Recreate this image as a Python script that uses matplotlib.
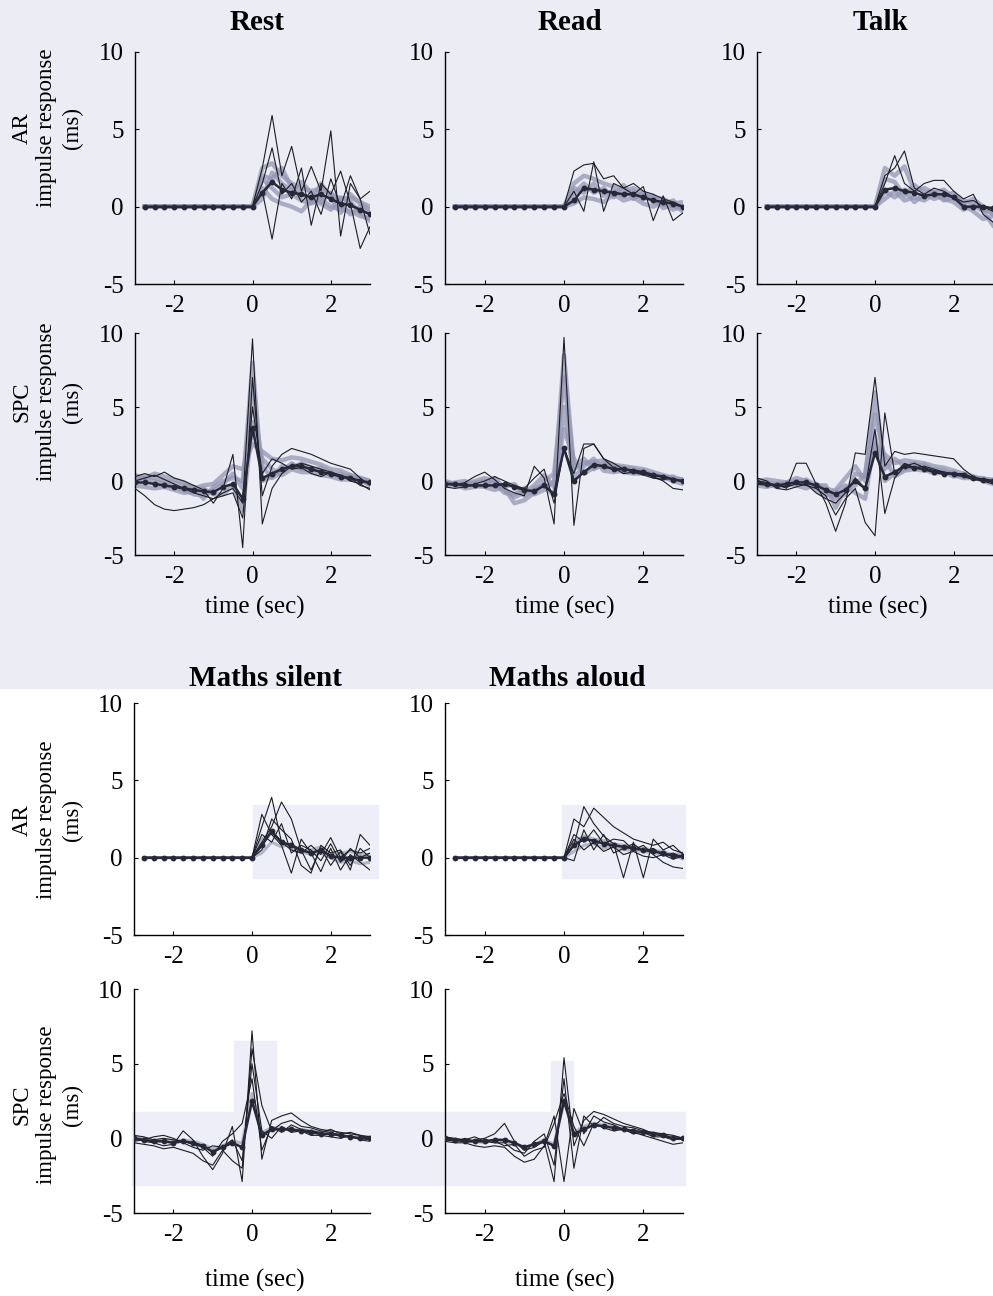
import matplotlib
matplotlib.use("Agg")
import matplotlib.pyplot as plt
from matplotlib.patches import Rectangle

plt.rcParams['font.family'] = ['Liberation Serif', 'DejaVu Serif']

# time lags (sec)
lags_ar = [-2.75, -2.5, -2.25, -2.0, -1.75, -1.5, -1.25, -1.0, -0.75, -0.5, -0.25, 0.0,
           0.25, 0.5, 0.75, 1.0, 1.25, 1.5, 1.75, 2.0, 2.25, 2.5, 2.75, 3.0]
lags_spc = [-3.0, -2.75, -2.5, -2.25, -2.0, -1.75, -1.5, -1.25, -1.0, -0.75, -0.5, -0.25, 0.0,
            0.25, 0.5, 0.75, 1.0, 1.25, 1.5, 1.75, 2.0, 2.25, 2.5, 2.75, 3.0]

# AR responses are zero up to lag 0, only post-stimulus values listed
ar_pre = [0.0] * 12

# ---- Rest ----
rest_ar_mean = [0.9, 1.6, 1.1, 0.9, 0.8, 0.6, 0.8, 0.5, 0.2, 0.1, -0.2, -0.5]
rest_ar_black = [[2.5, 5.9, 2.0, 3.9, 1.0, 2.6, 1.0, 4.9, -1.9, 1.5, 0.5, 1.0],
                 [1.0, -2.1, 1.5, 0.5, 2.5, -1.2, 1.5, 0.8, 2.3, 0.2, -2.7, -1.3],
                 [1.5, 3.8, 0.8, 1.5, 0.3, 1.0, -0.5, 1.8, 0.0, 2.0, 0.5, -1.8]]
rest_ar_grey = [[2.5, 2.8, 2.0, 1.5, 1.2, 1.0, 1.2, 0.8, 0.5, 0.6, 0.3, 0.0],
                [1.8, 1.2, 0.6, 0.8, 0.4, 0.2, 0.5, 0.0, -0.2, -0.3, -0.6, -0.8],
                [0.5, 2.2, 1.5, 1.0, 1.6, 0.9, 0.3, 0.9, 0.2, -0.5, 0.0, -0.4],
                [1.2, 0.5, 0.2, 0.0, -0.3, 0.4, 0.2, -0.2, 0.6, 0.3, -0.4, -0.9],
                [2.0, 1.8, 2.5, 1.2, 0.9, 0.3, 1.5, 0.6, -0.4, 0.8, 0.2, -0.2]]
rest_spc_mean = [-0.1, -0.1, -0.2, -0.3, -0.4, -0.5, -0.6, -0.7, -0.75, -0.4, -0.2, -1.2, 3.6,
                 0.2, 0.5, 0.8, 1.0, 1.0, 0.8, 0.6, 0.5, 0.3, 0.2, 0.0, -0.1]
rest_spc_black = [[-0.5, -1.0, -1.6, -1.9, -2.0, -1.9, -1.8, -1.6, -1.2, -0.8, -0.5, -1.5, 9.6,
                   -2.9, -0.5, 0.5, 1.0, 1.2, 1.0, 0.8, 0.6, 0.3, 0.2, -0.3, -0.5],
                  [0.3, 0.5, 0.3, 0.6, 0.2, 0.0, -0.3, -0.6, -1.5, -0.5, 1.8, -4.5, 7.0,
                   -1.0, 1.0, 1.8, 2.2, 2.0, 1.8, 1.5, 1.2, 1.0, 0.8, 0.2, -0.3],
                  [0.0, 0.2, 0.4, 0.1, -0.2, -0.5, -0.8, -1.0, -1.2, -1.0, -0.8, -2.5, 5.0,
                   0.5, 1.5, 1.2, 0.8, 0.9, 0.5, 0.3, 0.6, 0.4, 0.0, -0.2, -0.6]]
rest_spc_grey = [[0.2, 0.1, 0.0, -0.2, -0.4, -0.6, -0.9, -1.0, -0.6, -0.2, 0.5, -0.5, 8.0,
                  0.0, 0.3, 1.0, 0.9, 1.2, 0.9, 0.7, 0.4, 0.5, 0.2, 0.0, -0.2],
                 [-0.3, -0.4, -0.5, -0.4, -0.6, -0.8, -0.7, -0.5, -0.9, -0.9, -0.3, -2.0, 4.0,
                  1.5, 0.8, 0.4, 0.8, 0.6, 0.6, 0.4, 0.3, 0.1, 0.1, 0.2, 0.0],
                 [0.0, 0.3, 0.2, 0.0, -0.1, -0.3, -0.4, -1.2, -0.4, 0.0, 0.2, 0.0, 6.0,
                  1.0, 0.2, 0.6, 1.2, 0.8, 0.7, 0.9, 0.6, 0.2, 0.4, 0.1, -0.3],
                 [0.4, 0.2, 0.5, 0.3, 0.1, -0.1, -0.5, -0.3, -0.2, 0.4, 1.0, 0.8, 2.5,
                  2.0, 1.5, 1.4, 1.6, 1.5, 1.3, 1.1, 0.8, 0.7, 0.4, 0.2, 0.0]]

# ---- Read ----
read_ar_mean = [0.4, 1.2, 1.1, 1.0, 0.9, 0.8, 0.8, 0.6, 0.4, 0.3, 0.2, 0.0]
read_ar_black = [[2.3, 2.7, 2.8, 1.8, 2.0, 1.2, 1.5, 1.0, 0.8, 0.5, 0.3, 0.0],
                 [1.0, -0.3, 2.9, -0.3, 1.5, 1.2, 0.8, 1.3, -0.9, 0.7, -0.9, -0.4]]
read_ar_grey = [[1.5, 2.0, 1.8, 1.5, 1.3, 1.0, 1.2, 0.8, 0.6, 0.5, 0.2, 0.3],
                [0.8, 1.5, 0.9, 1.2, 0.6, 1.4, 0.5, 0.9, 0.3, 0.1, 0.4, -0.2],
                [0.2, 0.6, 0.5, 0.3, 0.8, 0.4, 0.6, 0.2, 0.0, 0.3, -0.2, 0.1],
                [1.2, 0.9, 1.5, 0.7, 1.0, 0.7, 1.0, 0.5, 0.7, -0.1, 0.1, -0.3]]
read_spc_mean = [-0.2, -0.2, -0.3, -0.3, -0.3, -0.3, -0.2, -0.4, -0.6, -0.7, -0.3, -0.9, 2.2,
                 0.0, 0.6, 1.1, 1.0, 0.8, 0.8, 0.7, 0.6, 0.4, 0.3, 0.1, 0.0]
read_spc_black = [[-0.2, -0.3, -0.1, 0.3, 0.6, 0.1, -0.5, -0.8, -1.0, 1.0, 0.2, -2.9, 9.7,
                   -3.0, 2.2, 2.5, 1.5, 1.2, 0.8, 0.6, 0.5, 0.3, 0.0, -0.5, -0.6],
                  [-0.4, -0.5, -0.4, -0.2, 0.0, 0.3, 0.0, -0.3, -0.5, 0.2, 0.8, -1.5, 2.2,
                   0.5, 2.5, 2.5, 1.5, 0.9, 0.5, 0.6, 0.4, 0.2, 0.1, 0.2, -0.1]]
read_spc_grey = [[0.0, -0.2, -0.5, -0.4, -0.3, 0.2, -0.5, -1.5, -1.3, -0.8, 0.0, 0.5, 7.0,
                  1.0, 1.5, 0.8, 1.2, 1.0, 0.9, 0.8, 0.6, 0.4, 0.3, 0.0, -0.2],
                 [-0.3, -0.1, 0.0, -0.3, -0.4, -0.6, -0.4, -0.2, -1.0, -0.5, -0.3, -1.0, 5.0,
                  0.2, 1.0, 1.5, 0.7, 0.6, 0.7, 0.6, 0.7, 0.3, 0.2, 0.1, 0.1],
                 [-0.1, -0.2, -0.3, -0.1, 0.0, -0.2, -0.8, -0.9, -0.5, -0.9, -0.6, 0.0, 3.5,
                  1.5, 0.5, 0.9, 1.0, 0.9, 0.6, 0.5, 0.5, 0.5, 0.2, 0.3, 0.0],
                 [-0.2, -0.3, -0.2, 0.0, 0.2, 0.0, -0.6, -1.1, -0.8, -0.3, 0.4, -0.4, 8.5,
                  0.8, 1.2, 1.3, 1.4, 1.1, 1.0, 0.9, 0.8, 0.6, 0.4, 0.2, 0.1]]

# ---- Talk ----
talk_ar_mean = [1.1, 1.2, 1.0, 0.9, 0.7, 0.8, 0.8, 0.6, 0.0, 0.0, 0.0, -0.1]
talk_ar_black = [[1.5, 3.3, 1.5, 1.0, 1.5, 1.7, 1.7, 1.0, 0.5, 0.8, -0.5, -1.0],
                 [2.0, 2.5, 3.6, 1.2, 0.8, 1.2, 1.0, 0.6, 0.3, 0.4, 0.0, -0.3]]
talk_ar_grey = [[2.5, 2.0, 2.6, 1.0, 1.2, 0.9, 1.1, 0.6, 0.2, 0.5, 0.0, -0.5],
                [0.5, 1.0, 0.4, 0.6, 0.4, 0.8, 0.5, 0.3, -0.2, 0.1, -0.3, -1.2],
                [1.0, 0.6, 1.1, 0.3, 0.8, 0.5, 0.7, 0.9, 0.1, -0.3, -0.8, -0.6],
                [1.8, 1.6, 0.7, 1.4, 0.9, 1.0, 0.4, 0.6, 0.4, 0.2, -0.2, -0.4]]
talk_spc_mean = [-0.1, -0.2, -0.3, -0.2, -0.1, -0.1, -0.3, -0.6, -0.9, -0.6, 0.0, -0.5, 1.9,
                 0.3, 0.6, 1.0, 0.9, 0.8, 0.6, 0.5, 0.5, 0.4, 0.2, 0.1, 0.0]
talk_spc_black = [[-0.2, -0.3, -0.2, -0.5, 1.2, 1.2, -0.2, -1.5, -3.4, -1.5, 1.9, 1.8, 7.0,
                   1.0, 2.0, 1.8, 1.9, 1.8, 1.7, 1.6, 1.5, 0.8, 0.3, 0.0, -0.2],
                  [0.0, -0.1, -0.3, -0.4, -0.2, -0.3, -0.5, -1.0, -2.3, -1.2, -0.5, -2.8, -3.7,
                   4.6, 0.5, 1.2, 0.9, 1.0, 0.8, 0.6, 0.4, 0.3, 0.1, 0.0, 0.0],
                  [0.2, 0.0, -0.5, -0.6, -0.4, -0.2, -0.8, -1.2, -1.5, -0.8, 0.2, -0.5, 3.5,
                   -2.2, 0.2, 1.0, 1.2, 0.9, 0.7, 0.6, 0.5, 0.5, 0.2, 0.1, -0.1]]
talk_spc_grey = [[-0.3, -0.4, -0.2, -0.1, 0.0, -0.2, -0.4, -0.8, -1.2, -0.9, 0.5, 0.3, 6.0,
                  0.8, 1.5, 1.0, 1.2, 0.8, 0.5, 0.6, 0.3, 0.5, 0.2, 0.1, 0.1],
                 [0.1, -0.1, -0.3, -0.2, -0.3, -0.5, -0.2, -0.5, -0.7, -0.3, -0.8, -1.2, 3.0,
                  0.0, 0.5, 0.8, 1.0, 1.1, 0.7, 0.5, 0.6, 0.3, 0.3, 0.0, -0.2],
                 [-0.2, -0.2, -0.4, -0.3, -0.1, 0.1, -0.3, -0.3, -1.8, -0.5, -0.3, 0.5, 4.5,
                  1.5, 0.3, 0.7, 0.8, 0.7, 0.8, 0.7, 0.4, 0.2, 0.2, 0.2, 0.0],
                 [0.0, 0.1, 0.0, -0.1, 0.2, 0.0, -0.6, -1.0, -0.6, 0.2, 1.0, 0.0, 2.5,
                  1.8, 1.2, 1.4, 1.3, 1.2, 1.0, 0.9, 0.7, 0.5, 0.3, 0.1, 0.0]]

# ---- Maths silent ----
msil_ar_mean = [0.8, 1.7, 1.0, 0.8, 0.5, 0.3, 0.5, 0.1, 0.0, 0.0, 0.0, 0.0]
msil_ar_black = [[2.0, 3.9, 1.0, 0.5, 0.3, 0.8, 0.2, 1.3, 0.0, 0.5, 0.3, 0.6],
                 [1.0, 2.0, 3.6, 2.5, 0.5, -0.8, 0.6, -0.5, 0.4, -0.8, 1.5, 0.8],
                 [2.8, 1.5, 0.8, -1.0, 1.2, 0.3, -0.9, 0.6, -0.8, 0.2, -0.3, -0.8],
                 [0.5, 2.5, 1.8, 1.2, -0.5, -1.0, 0.8, 0.3, 0.5, -0.5, 0.6, 0.0],
                 [1.5, 1.0, 2.2, 0.3, 0.8, 0.5, -0.2, 0.9, -0.3, 0.6, 0.0, 0.3]]
msil_ar_grey = [[1.2, 1.6, 1.0, 0.6, 0.4, 0.2, 0.3, 0.0, -0.3, -0.2, -0.4, -0.3],
                [0.3, 1.0, 0.7, 0.9, 0.3, 0.5, 0.7, 0.2, 0.3, 0.4, 0.2, 0.2]]
msil_spc_mean = [0.0, -0.1, -0.2, -0.2, -0.3, -0.2, -0.3, -0.5, -0.9, -0.6, -0.3, -0.6, 2.5,
                 0.2, 0.6, 0.6, 0.6, 0.5, 0.4, 0.3, 0.3, 0.2, 0.1, 0.0, 0.0]
msil_spc_black = [[0.0, -0.2, -0.3, -0.5, -0.4, 0.5, -0.1, -1.2, -2.1, -1.0, 0.8, -2.9, 7.2,
                   -1.4, 1.2, 1.5, 1.7, 1.2, 0.8, 0.6, 0.5, 0.4, 0.3, 0.2, 0.1],
                  [-0.3, -0.4, -0.5, -0.7, -0.6, -0.8, -1.0, -1.5, -1.8, -0.8, -1.5, -2.0, 6.0,
                   2.2, 0.5, 1.0, 1.2, 0.8, 0.7, 0.5, 0.4, 0.2, 0.1, 0.0, -0.1],
                  [0.2, 0.1, -0.1, 0.0, -0.1, -0.2, -0.4, -0.6, -1.2, -0.2, 0.3, 1.0, 4.0,
                   -0.8, 0.8, 0.4, 0.9, 0.6, 0.5, 0.4, 0.6, 0.3, 0.4, 0.2, 0.0],
                  [-0.2, -0.1, 0.1, 0.2, 0.0, -0.3, -0.6, -0.8, -0.5, -0.6, -0.1, -1.5, 5.0,
                   0.5, 0.0, 0.8, 0.4, 0.5, 0.2, 0.2, 0.1, 0.0, 0.2, -0.1, -0.2]]
msil_spc_grey = [[0.1, 0.0, -0.2, -0.1, -0.2, -0.1, -0.2, -0.4, -0.7, -0.5, -0.2, -0.3, 3.0,
                  0.4, 0.7, 0.7, 0.5, 0.6, 0.5, 0.4, 0.3, 0.2, 0.1, 0.1, 0.1]]

# ---- Maths aloud ----
malo_ar_mean = [0.8, 1.2, 1.1, 0.9, 0.8, 0.7, 0.6, 0.5, 0.4, 0.3, 0.1, 0.1]
malo_ar_black = [[2.5, 2.0, 3.2, 2.6, 2.0, 1.6, 1.2, 1.0, 0.8, 1.0, 0.5, 0.3],
                 [0.8, 3.3, 2.2, 1.4, 0.9, -1.3, 1.0, -1.3, 1.2, 0.5, 0.8, 0.2],
                 [1.5, 1.0, 1.8, 0.9, 1.2, 1.1, 0.5, 0.8, 0.2, -0.3, -0.6, -0.7],
                 [-0.2, 1.8, 0.5, 1.5, 0.3, 0.6, 0.9, 0.4, 0.6, 0.1, 0.3, 0.0],
                 [1.2, 0.5, 1.0, 0.4, 0.7, 0.2, 0.4, 0.1, 0.0, 0.2, -0.1, 0.1]]
malo_ar_grey = [[1.0, 1.4, 1.2, 1.1, 0.9, 0.8, 0.7, 0.6, 0.5, 0.4, 0.2, 0.3],
                [0.4, 0.8, 0.9, 0.6, 0.7, 0.5, 0.5, 0.4, 0.3, 0.2, 0.2, -0.1]]
malo_spc_mean = [0.0, -0.1, -0.2, -0.2, -0.2, -0.1, -0.1, -0.3, -0.6, -0.4, -0.2, -0.5, 2.5,
                 0.3, 0.6, 0.9, 0.8, 0.7, 0.6, 0.5, 0.4, 0.3, 0.2, 0.0, 0.0]
malo_spc_black = [[0.0, -0.1, -0.2, -0.1, 0.0, 0.3, 1.0, -0.2, -0.8, -0.6, -0.2, -2.9, 5.4,
                   -0.5, 1.2, 1.8, 1.6, 1.3, 1.0, 0.8, 0.6, 0.3, 0.2, 0.0, -0.1],
                  [-0.2, -0.3, -0.3, -0.5, -0.6, -0.5, -0.6, -1.2, -1.6, -1.4, -0.5, 1.5, -2.9,
                   2.0, 0.3, 1.5, 1.1, 0.9, 0.6, 0.4, 0.2, 0.0, -0.2, -0.4, -0.3],
                  [0.1, 0.0, -0.1, 0.1, -0.2, -0.3, -0.3, -0.8, -1.0, -0.2, 0.3, -1.8, 4.0,
                   -2.0, 1.5, 0.8, 1.4, 1.0, 0.8, 0.7, 0.5, 0.4, 0.3, 0.2, 0.0],
                  [-0.1, -0.2, 0.0, -0.2, -0.1, -0.2, -0.5, -0.4, -1.2, -0.8, -0.6, 1.0, 3.0,
                   0.8, -0.5, 1.0, 0.7, 0.5, 0.6, 0.3, 0.4, 0.1, 0.1, -0.1, 0.0]]
malo_spc_grey = [[0.0, -0.1, -0.2, -0.2, -0.3, -0.1, -0.2, -0.4, -0.6, -0.4, -0.1, -0.4, 2.5,
                  0.4, 0.8, 1.0, 0.9, 0.8, 0.6, 0.5, 0.4, 0.3, 0.2, 0.1, 0.0]]

W, H = 993, 1296
fig = plt.figure(figsize=(W / 100, H / 100), dpi=100)
fig.patch.set_facecolor('white')

# scanned page tint behind the top block and a few bottom patches
fig.add_artist(Rectangle((0, 1 - 688 / H), 1, 688 / H, transform=fig.transFigure,
                         color='#ececf5', zorder=0))
for (x0, y0, x1, y1) in [(253, 805, 378, 878), (562, 805, 685, 878),
                         (132, 1112, 685, 1185), (234, 1041, 276, 1112), (551, 1061, 573, 1112)]:
    fig.add_artist(Rectangle((x0 / W, 1 - y1 / H), (x1 - x0) / W, (y1 - y0) / H,
                             transform=fig.transFigure, color='#eeeef8', zorder=0))


def add_panel(left, top, right, bottom):
    ax = fig.add_axes([left / W, 1 - bottom / H, (right - left) / W, (bottom - top) / H])
    ax.patch.set_alpha(0)
    ax.set_xlim(-3, 3)
    ax.set_ylim(-5, 10)
    ax.set_xticks([-2, 0, 2])
    ax.set_yticks([-5, 0, 5, 10])
    ax.set_xticklabels(['-2', '0', '2'])
    ax.set_yticklabels(['-5', '0', '5', '10'])
    ax.spines['top'].set_visible(False)
    ax.spines['right'].set_visible(False)
    ax.spines['left'].set_linewidth(1.0)
    ax.spines['bottom'].set_linewidth(1.0)
    ax.tick_params(direction='in', length=3, width=0.8, labelsize=18, pad=8)
    return ax


def draw(ax, lags, mean, black, grey, grey_col='#9497b4', grey_lw=3.2):
    for g in grey:
        ax.plot(lags, g, color=grey_col, lw=grey_lw, alpha=0.75, zorder=2)
    for b in black:
        ax.plot(lags, b, color='#1c1c22', lw=0.8, zorder=3)
    ax.plot(lags, mean, color='#262838', lw=1.8, marker='o', ms=3.2, zorder=4)


def ar(v):
    return ar_pre + v


cols_top = [(135, 370), (445, 683), (757, 993)]
cols_bot = [(134, 370), (445, 683)]

top_sets = [
    (rest_ar_mean, rest_ar_black, rest_ar_grey, rest_spc_mean, rest_spc_black, rest_spc_grey),
    (read_ar_mean, read_ar_black, read_ar_grey, read_spc_mean, read_spc_black, read_spc_grey),
    (talk_ar_mean, talk_ar_black, talk_ar_grey, talk_spc_mean, talk_spc_black, talk_spc_grey),
]
bot_sets = [
    (msil_ar_mean, msil_ar_black, msil_ar_grey, msil_spc_mean, msil_spc_black, msil_spc_grey),
    (malo_ar_mean, malo_ar_black, malo_ar_grey, malo_spc_mean, malo_spc_black, malo_spc_grey),
]

for (l, r), (am, ab, ag, sm, sb, sg) in zip(cols_top, top_sets):
    ax1 = add_panel(l, 52, r, 284)
    draw(ax1, lags_ar, ar(am), [ar(b) for b in ab], [ar(g) for g in ag])
    ax2 = add_panel(l, 333, r, 555)
    draw(ax2, lags_spc, sm, sb, sg)

for (l, r), (am, ab, ag, sm, sb, sg) in zip(cols_bot, bot_sets):
    ax1 = add_panel(l, 703, r, 935)
    draw(ax1, lags_ar, ar(am), [ar(b) for b in ab], [ar(g) for g in ag],
         grey_col='#a0a3b8', grey_lw=2.2)
    ax2 = add_panel(l, 989, r, 1213)
    draw(ax2, lags_spc, sm, sb, sg, grey_col='#a0a3b8', grey_lw=2.2)


def ftext(x, y, s, **kw):
    fig.text(x / W, 1 - y / H, s, ha='center', va='center', **kw)


# titles
for x, y, s in [(257, 22, 'Rest'), (570, 22, 'Read'), (880, 22, 'Talk'),
                (265, 678, 'Maths silent'), (567, 678, 'Maths aloud')]:
    ftext(x, y, s, fontsize=21, fontweight='bold')

# row labels
for yc, name in [(128, 'AR'), (402, 'SPC'), (820, 'AR'), (1105, 'SPC')]:
    ftext(22, yc, name, fontsize=16.5, rotation=90)
    ftext(47, yc, 'impulse response', fontsize=16.5, rotation=90)
    ftext(72, yc, '(ms)', fontsize=16.5, rotation=90)

# x labels
for x in [255, 565, 878]:
    ftext(x, 607, 'time (sec)', fontsize=18)
for x in [255, 565]:
    ftext(x, 1280, 'time (sec)', fontsize=18)

fig.savefig('out.png', dpi=100)
